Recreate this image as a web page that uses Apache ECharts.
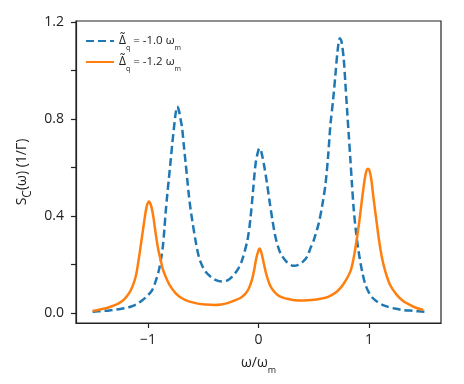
<!DOCTYPE html>
<html>
<head>
<meta charset="utf-8">
<script src="https://cdn.jsdelivr.net/npm/echarts@6/dist/echarts.min.js"></script>
<style>
  html, body { margin: 0; padding: 0; background: #fff; }
  #chart { width: 464px; height: 384px; }
</style>
</head>
<body>
<div id="chart"></div>
<script>
// values: [omega/omega_m, S_C]
const blueData = [
  [-1.50, 0.004], [-1.45, 0.006], [-1.40, 0.008], [-1.35, 0.010], [-1.30, 0.013],
  [-1.25, 0.016], [-1.20, 0.020], [-1.15, 0.026], [-1.10, 0.036], [-1.05, 0.052],
  [-1.00, 0.072], [-0.96, 0.095], [-0.93, 0.130], [-0.90, 0.177], [-0.88, 0.225],
  [-0.865, 0.273], [-0.85, 0.350], [-0.84, 0.411], [-0.825, 0.487], [-0.81, 0.555],
  [-0.795, 0.624], [-0.78, 0.695], [-0.765, 0.760], [-0.75, 0.820], [-0.735, 0.851],
  [-0.72, 0.835], [-0.705, 0.800], [-0.69, 0.760], [-0.675, 0.690], [-0.66, 0.624],
  [-0.645, 0.555], [-0.63, 0.487], [-0.615, 0.430], [-0.60, 0.384], [-0.57, 0.300],
  [-0.54, 0.232], [-0.51, 0.195], [-0.48, 0.170], [-0.44, 0.152], [-0.39, 0.136],
  [-0.33, 0.129], [-0.28, 0.134], [-0.24, 0.148], [-0.19, 0.177], [-0.15, 0.215],
  [-0.10, 0.300], [-0.075, 0.380], [-0.05, 0.500], [-0.025, 0.620], [0.00, 0.672],
  [0.01, 0.679], [0.025, 0.665], [0.05, 0.610], [0.075, 0.540], [0.10, 0.460],
  [0.125, 0.385], [0.15, 0.320], [0.175, 0.275], [0.20, 0.245], [0.25, 0.212],
  [0.30, 0.196], [0.32, 0.194], [0.36, 0.198], [0.40, 0.210], [0.44, 0.232],
  [0.47, 0.267], [0.50, 0.300], [0.545, 0.370], [0.575, 0.440], [0.605, 0.528],
  [0.63, 0.650], [0.65, 0.775], [0.675, 0.880], [0.695, 0.980], [0.715, 1.080],
  [0.735, 1.133], [0.75, 1.120], [0.77, 1.050], [0.785, 0.950], [0.80, 0.844],
  [0.815, 0.740], [0.83, 0.638], [0.845, 0.530], [0.86, 0.432], [0.88, 0.340],
  [0.905, 0.253], [0.935, 0.175], [0.965, 0.118], [1.00, 0.082], [1.035, 0.060],
  [1.07, 0.047], [1.12, 0.033], [1.17, 0.025], [1.22, 0.019], [1.30, 0.012],
  [1.40, 0.008], [1.50, 0.004]
];
const orangeData = [
  [-1.50, 0.008], [-1.44, 0.013], [-1.38, 0.019], [-1.32, 0.028], [-1.26, 0.040],
  [-1.21, 0.058], [-1.17, 0.081], [-1.14, 0.108], [-1.11, 0.150], [-1.09, 0.200],
  [-1.066, 0.273], [-1.045, 0.340], [-1.027, 0.397], [-1.01, 0.440], [-0.99, 0.459],
  [-0.97, 0.440], [-0.951, 0.397], [-0.935, 0.345], [-0.921, 0.301], [-0.905, 0.258],
  [-0.885, 0.219], [-0.865, 0.180], [-0.84, 0.150], [-0.80, 0.112], [-0.75, 0.081],
  [-0.70, 0.062], [-0.63, 0.047], [-0.55, 0.038], [-0.48, 0.034], [-0.40, 0.032],
  [-0.34, 0.034], [-0.28, 0.040], [-0.22, 0.050], [-0.16, 0.062], [-0.12, 0.078],
  [-0.09, 0.098], [-0.06, 0.135], [-0.04, 0.175], [-0.02, 0.225], [0.00, 0.258],
  [0.01, 0.265], [0.025, 0.250], [0.045, 0.210], [0.07, 0.160], [0.10, 0.118],
  [0.13, 0.094], [0.17, 0.075], [0.22, 0.063], [0.28, 0.056], [0.33, 0.052],
  [0.41, 0.051], [0.48, 0.053], [0.56, 0.058], [0.63, 0.066], [0.71, 0.088],
  [0.77, 0.120], [0.83, 0.170], [0.86, 0.225], [0.89, 0.308], [0.915, 0.390],
  [0.937, 0.473], [0.96, 0.550], [0.975, 0.585], [0.99, 0.594], [1.005, 0.585],
  [1.02, 0.550], [1.04, 0.473], [1.065, 0.385], [1.087, 0.308], [1.115, 0.230],
  [1.147, 0.170], [1.19, 0.115], [1.25, 0.074], [1.31, 0.048], [1.37, 0.033],
  [1.43, 0.020], [1.49, 0.012]
];
const xTicks = [-1, 0, 1];
const yLabelTicks = [0, 0.4, 0.8, 1.2];
const yMinorTicks = [0, 0.2, 0.4, 0.6, 0.8, 1.0, 1.2];
const seriesNames = ["blue", "orange"];
const legendLabels = {
  blue: "{d|Δ̃}{s|q}{t| = -1.0 ω}{s|m}",
  orange: "{d|Δ̃}{s|q}{t| = -1.2 ω}{s|m}"
};

const font = "Open Sans";
const chart = echarts.init(document.getElementById("chart"));
chart.setOption({
  animation: false,
  textStyle: { fontFamily: font },
  grid: {
    left: 76, right: 23, top: 21, bottom: 61,
    show: true, borderColor: "#222", borderWidth: 1.2
  },
  legend: {
    left: 80, top: 30, orient: "vertical",
    itemWidth: 28, itemHeight: 12, itemGap: 5,
    data: seriesNames,
    itemStyle: { opacity: 0 },
    formatter: (n) => legendLabels[n],
    textStyle: {
      color: "#222",
      rich: {
        d: { fontSize: 12, fontFamily: font, lineHeight: 16 },
        t: { fontSize: 11.5, fontFamily: font, lineHeight: 16 },
        s: { fontSize: 7, fontFamily: font, lineHeight: 8, verticalAlign: "bottom", padding: [0, 0, -2, 0] }
      }
    }
  },
  xAxis: {
    type: "value", min: -1.65, max: 1.65,
    axisLine: { onZero: false, lineStyle: { color: "#222", width: 1.2 } },
    axisTick: { show: true, length: 5, customValues: xTicks, lineStyle: { color: "#222", width: 1.2 } },
    axisLabel: {
      customValues: xTicks, color: "#222", fontSize: 14, margin: 10,
      formatter: (v) => (v < 0 ? "\u2212" + Math.abs(v) : String(v))
    },
    splitLine: { show: false },
    name: "{a|ω/ω}{b|m}", nameLocation: "middle", nameGap: 31,
    nameTextStyle: {
      rich: {
        a: { fontSize: 14, color: "#222", fontFamily: font, lineHeight: 18 },
        b: { fontSize: 9, color: "#222", fontFamily: font, lineHeight: 10, verticalAlign: "bottom", padding: [0, 0, -3, 0] }
      }
    }
  },
  yAxis: {
    type: "value", min: -0.042, max: 1.204,
    axisLine: { show: true, onZero: false, lineStyle: { color: "#222", width: 1.2 } },
    axisTick: { show: true, length: 5, customValues: yMinorTicks, lineStyle: { color: "#222", width: 1.2 } },
    axisLabel: {
      customValues: yLabelTicks, color: "#222", fontSize: 14, margin: 12,
      formatter: (v) => v.toFixed(1)
    },
    splitLine: { show: false },
    name: "{a|S}{b|C}{a|(ω) (1/Γ)}", nameLocation: "middle", nameGap: 43,
    nameTextStyle: {
      rich: {
        a: { fontSize: 14, color: "#222", fontFamily: font, lineHeight: 18 },
        b: { fontSize: 12, color: "#222", fontFamily: font, lineHeight: 14, verticalAlign: "bottom", padding: [0, 0, -2, 0] }
      }
    }
  },
  series: [
    {
      name: "blue", type: "line", data: blueData, smooth: 0.3,
      symbol: "none", color: "#1f77b4",
      lineStyle: { width: 2.5, type: [8, 4], color: "#1f77b4" }
    },
    {
      name: "orange", type: "line", data: orangeData, smooth: 0.3,
      symbol: "none", color: "#ff7f0e",
      lineStyle: { width: 2.5, color: "#ff7f0e" }
    }
  ]
});
</script>
</body>
</html>
